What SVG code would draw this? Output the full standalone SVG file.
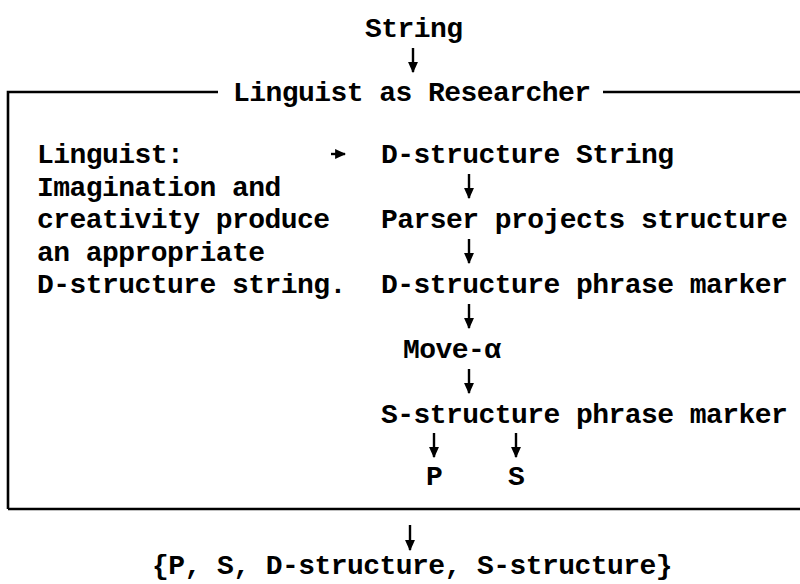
<svg xmlns="http://www.w3.org/2000/svg" width="800" height="584" viewBox="0 0 800 584">
<defs>
<style>
text{font-family:"Liberation Mono","Courier New",monospace;font-weight:bold;font-size:28px;letter-spacing:-0.55px;fill:#000}
.ln{stroke:#000;stroke-width:2.6;fill:none}
.ar{stroke:#000;stroke-width:2.4;fill:none}
</style>
<marker id="ah" viewBox="0 0 10 10" refX="9" refY="5" markerWidth="11" markerHeight="11" markerUnits="userSpaceOnUse" orient="auto">
<path d="M0,0.5 L10,5 L0,9.5 Z" fill="#000"/>
</marker>
</defs>
<rect width="800" height="584" fill="#fff"/>
<g id="frame">
<path class="ln" d="M8,509 L8,92 L218,92 M603,92 L800,92 M8,509 L800,509"/>
</g>
<g id="n-string"><text x="365" y="37">String</text></g>
<g id="n-title"><text x="233" y="101">Linguist as Researcher</text></g>
<g id="n-linguist">
<text x="37" y="163">Linguist:</text>
<text x="37" y="195.5">Imagination and</text>
<text x="37" y="228">creativity produce</text>
<text x="37" y="260.5">an appropriate</text>
<text x="37" y="293">D-structure string.</text>
</g>
<g id="n-dstring"><text x="381" y="163">D-structure String</text></g>
<g id="n-parser"><text x="381" y="228">Parser projects structure</text></g>
<g id="n-dphrase"><text x="381" y="293">D-structure phrase marker</text></g>
<g id="n-move"><text x="403" y="358">Move-α</text></g>
<g id="n-sphrase"><text x="381" y="423">S-structure phrase marker</text></g>
<g id="n-p"><text x="426" y="485">P</text></g>
<g id="n-s"><text x="508" y="485">S</text></g>
<g id="n-result"><text x="152" y="574">{P, S, D-structure, S-structure}</text></g>
<g id="connectors">
<line class="ar" x1="413" y1="48" x2="413" y2="72" marker-end="url(#ah)"/>
<line class="ar" x1="331" y1="154" x2="345" y2="154" marker-end="url(#ah)"/>
<line class="ar" x1="469" y1="174" x2="469" y2="198" marker-end="url(#ah)"/>
<line class="ar" x1="469" y1="239" x2="469" y2="263" marker-end="url(#ah)"/>
<line class="ar" x1="469" y1="304" x2="469" y2="328" marker-end="url(#ah)"/>
<line class="ar" x1="469" y1="369" x2="469" y2="393" marker-end="url(#ah)"/>
<line class="ar" x1="434" y1="433" x2="434" y2="457" marker-end="url(#ah)"/>
<line class="ar" x1="516" y1="433" x2="516" y2="457" marker-end="url(#ah)"/>
<line class="ar" x1="410" y1="525" x2="410" y2="550" marker-end="url(#ah)"/>
</g>
</svg>
